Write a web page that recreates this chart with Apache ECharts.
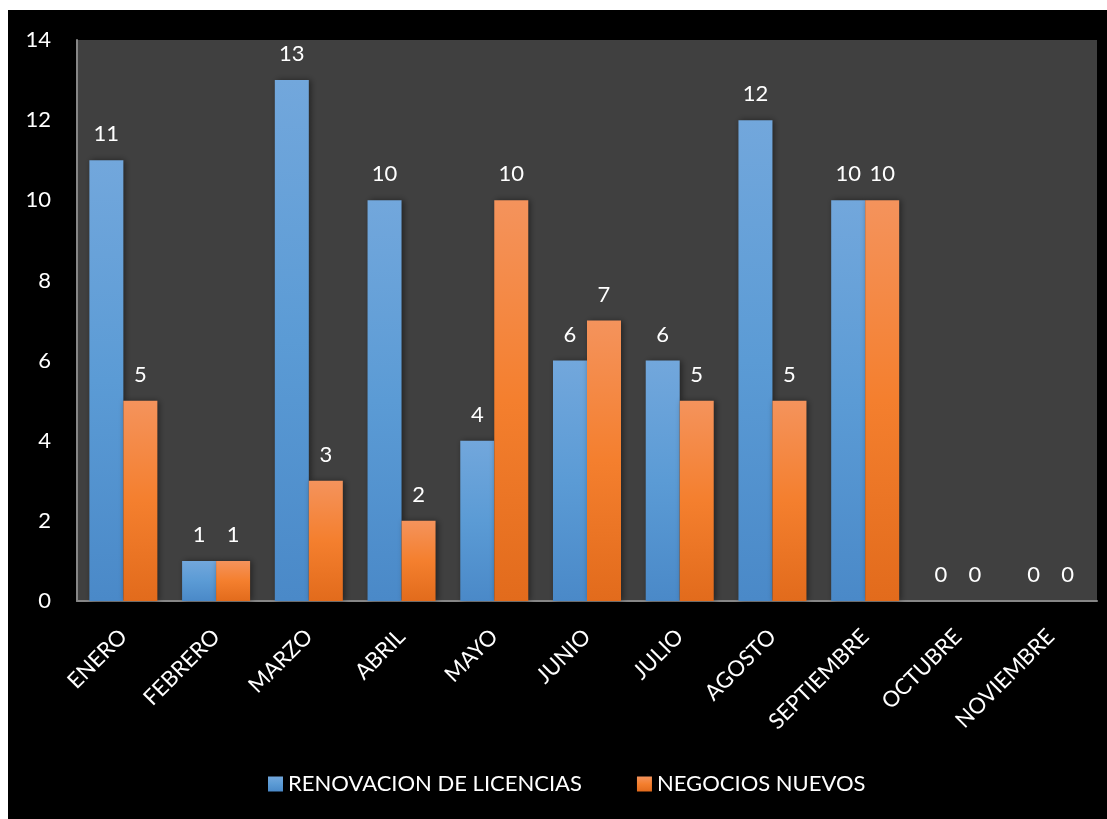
<!DOCTYPE html>
<html>
<head>
<meta charset="utf-8">
<script src="https://cdn.jsdelivr.net/npm/echarts@6/dist/echarts.min.js"></script>
<style>
html,body{margin:0;padding:0;background:#fff;width:1107px;height:819px;overflow:hidden;}
#c{position:absolute;left:8px;top:10px;width:1099px;height:809px;background:#000;}
</style>
</head>
<body>
<div id="c"></div>
<script>
const categories = ['ENERO','FEBRERO','MARZO','ABRIL','MAYO','JUNIO','JULIO','AGOSTO','SEPTIEMBRE','OCTUBRE','NOVIEMBRE'];
const renovacion = [11,1,13,10,4,6,6,12,10,0,0];
const negocios = [5,1,3,2,10,7,5,5,10,0,0];
const seriesNames = ['RENOVACION DE LICENCIAS','NEGOCIOS NUEVOS'];

const FONT = 'Lato';
const FS = 22;
function grad(top, mid, bot){
  return new echarts.graphic.LinearGradient(0,0,0,1,[
    {offset:0,color:top},{offset:0.5,color:mid},{offset:1,color:bot}]);
}
const chart = echarts.init(document.getElementById('c'));
const labelCfg = {show:true, position:'top', distance:15, color:'#fff', fontFamily:FONT, fontSize:FS};
chart.setOption({
  backgroundColor:'#000',
  animation:false,
  grid:{left:69, top:30, right:10, bottom:218, show:true, backgroundColor:'#404040', borderWidth:0, containLabel:false},
  legend:{
    data:seriesNames, top:758, left:255, itemWidth:15, itemHeight:15, itemGap:55,
    icon:'rect',
    textStyle:{color:'#fff', fontFamily:FONT, fontSize:FS}
  },
  xAxis:{
    type:'category', data:categories,
    axisLine:{show:true, lineStyle:{color:'#868686', width:2}},
    axisTick:{show:false},
    axisLabel:{color:'#fff', fontFamily:FONT, fontSize:FS, rotate:45, interval:0, margin:32}
  },
  yAxis:{
    type:'value', min:0, max:14, interval:2,
    axisLine:{show:true, lineStyle:{color:'#868686', width:2}},
    axisTick:{show:false},
    splitLine:{show:false},
    axisLabel:{color:'#fff', fontFamily:FONT, fontSize:FS, margin:26}
  },
  series:[
    {name:seriesNames[0], type:'bar', data:renovacion, barWidth:34, barGap:'0%',
     itemStyle:{color:grad('#72a7dc','#5b9bd5','#4a89c8'), shadowColor:'rgba(0,0,0,0.45)', shadowBlur:6, shadowOffsetX:2, shadowOffsetY:0},
     label:labelCfg},
    {name:seriesNames[1], type:'bar', data:negocios, barWidth:34,
     itemStyle:{color:grad('#f4935c','#f47f2e','#e26b1c'), shadowColor:'rgba(0,0,0,0.45)', shadowBlur:6, shadowOffsetX:2, shadowOffsetY:0},
     label:labelCfg}
  ]
});
</script>
</body>
</html>
